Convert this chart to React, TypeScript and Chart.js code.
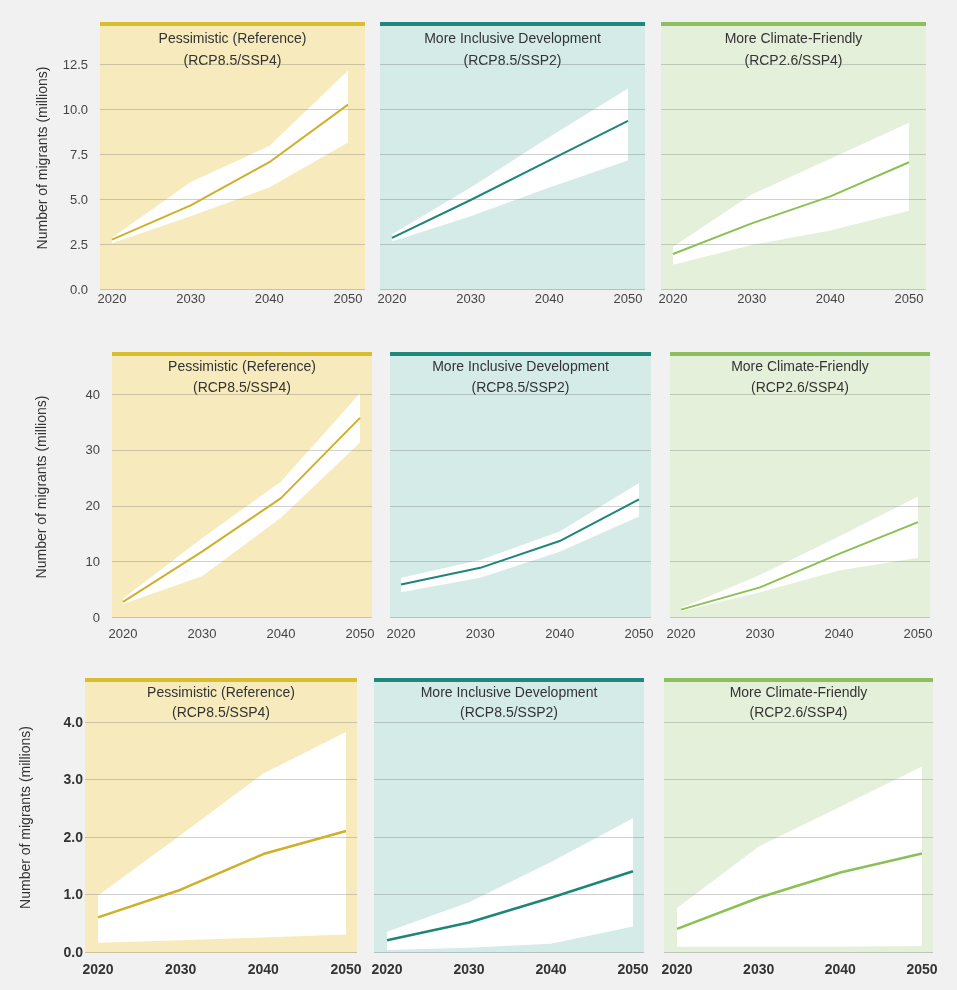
import React, { useEffect, useRef } from "react";
import { Chart, registerables } from "chart.js";

Chart.register(...registerables);

// Projection years and axis ticks
const years = [2020, 2030, 2040, 2050];
const xTicks = [2020, 2030, 2040, 2050];

const scenarioNames = ["Pessimistic (Reference)", "More Inclusive Development", "More Climate-Friendly"];
const scenarioCodes = ["(RCP8.5/SSP4)", "(RCP8.5/SSP2)", "(RCP2.6/SSP4)"];
const yTitle = "Number of migrants (millions)";

// Region A (top row), millions
const aPessMedian = [2.8, 4.7, 7.1, 10.3];
const aPessHigh = [2.9, 6.0, 8.0, 12.2];
const aPessLow = [2.6, 4.1, 5.7, 8.2];
const aInclMedian = [2.9, 5.0, 7.2, 9.4];
const aInclHigh = [3.1, 5.7, 8.5, 11.2];
const aInclLow = [2.7, 4.1, 5.7, 7.2];
const aClimMedian = [2.0, 3.7, 5.2, 7.1];
const aClimHigh = [2.4, 5.3, 7.3, 9.3];
const aClimLow = [1.4, 2.5, 3.3, 4.4];
const aTicks = [0, 2.5, 5, 7.5, 10, 12.5];

// Region B (middle row), millions
const bPessMedian = [2.9, 11.9, 21.5, 35.9];
const bPessHigh = [3.5, 14.3, 24.5, 40.3];
const bPessLow = [2.5, 7.5, 18.0, 31.5];
const bInclMedian = [6.0, 9.0, 13.8, 21.3];
const bInclHigh = [7.2, 10.4, 15.5, 24.2];
const bInclLow = [4.6, 7.2, 11.9, 18.2];
const bClimMedian = [1.5, 5.5, 11.5, 17.2];
const bClimHigh = [1.8, 7.7, 14.6, 21.8];
const bClimLow = [1.2, 4.6, 8.5, 10.8];
const bTicks = [0, 10, 20, 30, 40];

// Region C (bottom row), millions
const cPessMedian = [0.62, 1.1, 1.72, 2.12];
const cPessHigh = [1.0, 2.05, 3.12, 3.84];
const cPessLow = [0.18, 0.22, 0.27, 0.32];
const cInclMedian = [0.22, 0.53, 0.96, 1.42];
const cInclHigh = [0.37, 0.88, 1.58, 2.34];
const cInclLow = [0.05, 0.09, 0.16, 0.46];
const cClimMedian = [0.42, 0.96, 1.4, 1.73];
const cClimHigh = [0.78, 1.85, 2.54, 3.24];
const cClimLow = [0.11, 0.11, 0.11, 0.12];
const cTicks = [0, 1, 2, 3, 4];

const palettes = [
  { bg: "#f7eabc", bar: "#d9bd2e", line: "#cfb02a" },
  { bg: "#d4ebe8", bar: "#1f887c", line: "#1d8676" },
  { bg: "#e5f0da", bar: "#8cbf5d", line: "#8bc054" },
];

const TEXT = "#333333";
const FONT = "'Liberation Sans', Arial, sans-serif";
const BAR_H = 4;
const SIDE = 24; // spare canvas room beside each panel for the year labels

type RowLayout = {
  top: number; // top of coloured header bar
  bottom: number; // pixel of the zero line
  axisH: number;
  yMax: number;
  ticks: number[];
  fmt: (v: number) => string;
  tickPad: number;
  xPad: number;
  tickFont: { size: number; weight: string };
  tickColor: string;
  titleDy: [number, number];
  yTitlePad: number;
  lineW: number;
  padL: number;
  padR: number;
  blur: number;
  panels: [number, number][];
  series: { low: number[]; high: number[]; mid: number[] }[];
};

const rows: RowLayout[] = [
  {
    top: 22, bottom: 290, axisH: 22, yMax: 14.67, ticks: aTicks, fmt: (v) => v.toFixed(1),
    tickPad: 12, xPad: 2, tickFont: { size: 13, weight: "normal" }, tickColor: "#444444",
    titleDy: [13, 35], yTitlePad: 35, lineW: 2, padL: 12, padR: 17, blur: 0.6,
    panels: [[100, 365], [380, 645], [661, 926]],
    series: [
      { low: aPessLow, high: aPessHigh, mid: aPessMedian },
      { low: aInclLow, high: aInclHigh, mid: aInclMedian },
      { low: aClimLow, high: aClimHigh, mid: aClimMedian },
    ],
  },
  {
    top: 352, bottom: 618, axisH: 25, yMax: 47.0, ticks: bTicks, fmt: (v) => String(v),
    tickPad: 12, xPad: 9, tickFont: { size: 13, weight: "normal" }, tickColor: "#444444",
    titleDy: [11, 32], yTitlePad: 34, lineW: 2, padL: 11, padR: 12, blur: 0.6,
    panels: [[112, 372], [390, 651], [670, 930]],
    series: [
      { low: bPessLow, high: bPessHigh, mid: bPessMedian },
      { low: bInclLow, high: bInclHigh, mid: bInclMedian },
      { low: bClimLow, high: bClimHigh, mid: bClimMedian },
    ],
  },
  {
    top: 678, bottom: 953, axisH: 30, yMax: 4.71, ticks: cTicks, fmt: (v) => v.toFixed(1),
    tickPad: 2, xPad: 9, tickFont: { size: 14, weight: "bold" }, tickColor: TEXT,
    titleDy: [11, 31], yTitlePad: 18, lineW: 2.5, padL: 13, padR: 11, blur: 0,
    panels: [[85, 357], [374, 644], [664, 933]],
    series: [
      { low: cPessLow, high: cPessHigh, mid: cPessMedian },
      { low: cInclLow, high: cInclHigh, mid: cInclMedian },
      { low: cClimLow, high: cClimHigh, mid: cClimMedian },
    ],
  },
];

// Coloured panel background, header bar, scenario heading and horizontal guides
const panelDecor = {
  id: "panelDecor",
  beforeDraw(chart: any, _args: any, opts: any) {
    const { ctx, chartArea: a } = chart;
    ctx.save();
    ctx.fillStyle = opts.bg;
    ctx.fillRect(a.left, a.top, a.right - a.left, a.bottom - a.top);
    ctx.fillStyle = opts.bar;
    ctx.fillRect(a.left, a.top - BAR_H, a.right - a.left, BAR_H);
    ctx.fillStyle = TEXT;
    ctx.font = `14px ${FONT}`;
    ctx.textAlign = "center";
    ctx.textBaseline = "middle";
    const cx = (a.left + a.right) / 2;
    ctx.fillText(opts.name, cx, a.top + opts.dy[0]);
    ctx.fillText(opts.code, cx, a.top + opts.dy[1]);
    ctx.restore();
  },
  beforeDatasetsDraw(chart: any) {
    const { ctx, chartArea: a } = chart;
    const y = chart.scales.y;
    ctx.save();
    ctx.strokeStyle = "rgba(110,110,110,0.32)";
    ctx.lineWidth = 1;
    y.ticks.forEach((t: any) => {
      const py = Math.round(y.getPixelForValue(t.value)) - 0.5;
      ctx.beginPath();
      ctx.moveTo(a.left, py);
      ctx.lineTo(a.right, py);
      ctx.stroke();
    });
    ctx.restore();
  },
};

function Panel({ row, col }: { row: RowLayout; col: number }) {
  const ref = useRef<HTMLCanvasElement>(null);
  const [pl, pr] = row.panels[col];
  const first = col === 0;
  const left = first ? 0 : pl - SIDE;
  const yW = pl - left;
  const width = pr + SIDE - left;
  const top = row.top;
  const height = row.bottom + row.axisH - top;
  const span = pr - pl - row.padL - row.padR;
  const xMin = 2020 - (row.padL * 30) / span;
  const xMax = 2050 + (row.padR * 30) / span;
  const pal = palettes[col];
  const s = row.series[col];

  useEffect(() => {
    const pts = (arr: number[]) => arr.map((v, i) => ({ x: years[i], y: v }));
    const tickFont = { family: FONT, size: row.tickFont.size, weight: row.tickFont.weight };
    const chart = new Chart(ref.current as HTMLCanvasElement, {
      type: "line",
      data: {
        datasets: [
          { data: pts(s.low), borderWidth: 0, borderColor: "transparent", pointRadius: 0, fill: false, tension: 0 },
          { data: pts(s.high), borderWidth: 0, borderColor: "transparent", pointRadius: 0, fill: "-1", backgroundColor: "#ffffff", tension: 0 },
          { data: pts(s.mid), borderWidth: row.lineW, borderColor: pal.line, pointRadius: 0, fill: false, tension: 0, borderCapStyle: "butt", borderJoinStyle: "round" },
        ],
      },
      options: {
        animation: false,
        responsive: false,
        devicePixelRatio: 1,
        events: [],
        layout: { padding: { top: BAR_H, left: 0, right: SIDE, bottom: 0 }, autoPadding: false },
        plugins: {
          legend: { display: false },
          tooltip: { enabled: false },
          title: { display: false },
          filler: { drawTime: "beforeDatasetsDraw" },
          panelDecor: { bg: pal.bg, bar: pal.bar, name: scenarioNames[col], code: scenarioCodes[col], dy: row.titleDy },
        } as any,
        scales: {
          x: {
            type: "linear",
            min: xMin,
            max: xMax,
            grid: { display: false, drawTicks: false },
            border: { display: false },
            afterBuildTicks: (sc: any) => { sc.ticks = xTicks.map((v) => ({ value: v })); },
            afterFit: (sc: any) => { sc.height = row.axisH; sc.paddingLeft = 0; sc.paddingRight = 0; },
            ticks: {
              padding: row.xPad,
              color: row.tickColor,
              font: tickFont,
              maxRotation: 0,
              autoSkip: false,
              callback: (v: any) => String(v),
            },
          },
          y: {
            type: "linear",
            min: 0,
            max: row.yMax,
            grid: { display: false, drawTicks: false },
            border: { display: false },
            afterBuildTicks: (sc: any) => { sc.ticks = row.ticks.map((v) => ({ value: v })); },
            afterFit: (sc: any) => { sc.width = yW; sc.paddingTop = 0; sc.paddingBottom = 0; },
            ticks: {
              display: first,
              padding: row.tickPad,
              color: row.tickColor,
              font: tickFont,
              autoSkip: false,
              callback: (v: any) => row.fmt(Number(v)),
            },
            title: {
              display: first,
              text: yTitle,
              color: TEXT,
              font: { family: FONT, size: 14 },
              padding: { top: row.yTitlePad, bottom: 0 },
            },
          },
        },
      } as any,
      plugins: [panelDecor],
    });
    return () => chart.destroy();
  }, []);

  return (
    <canvas
      ref={ref}
      width={width}
      height={height}
      style={{
        position: "absolute",
        left,
        top,
        width,
        height,
        filter: row.blur ? `blur(${row.blur}px)` : undefined,
      }}
    />
  );
}

export default function App() {
  return (
    <div style={{ position: "absolute", left: 0, top: 0, width: 957, height: 990, background: "#f1f1f1", overflow: "hidden" }}>
      {rows.map((row, r) =>
        [0, 1, 2].map((c) => <Panel key={`${r}-${c}`} row={row} col={c} />)
      )}
    </div>
  );
}
